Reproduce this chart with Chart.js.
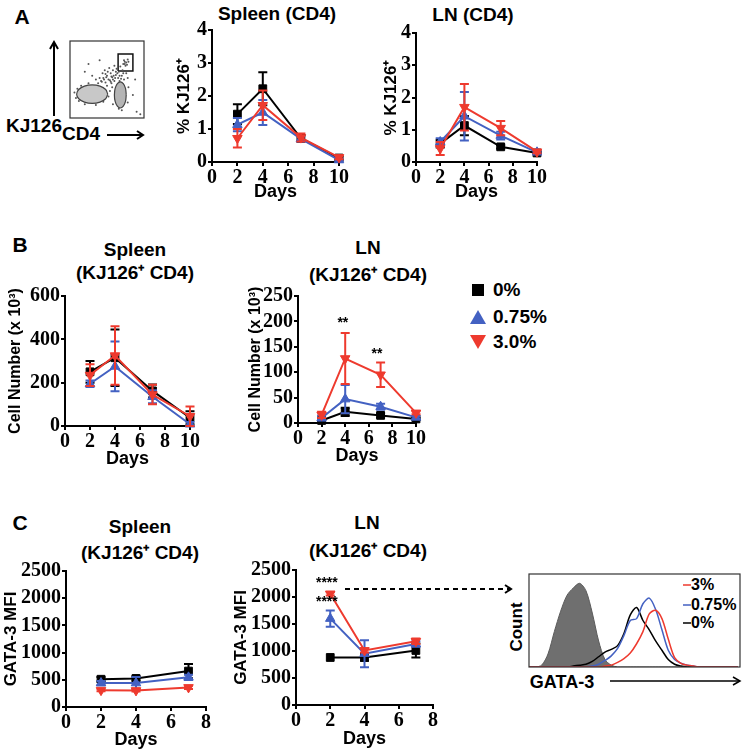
<!DOCTYPE html>
<html>
<head>
<meta charset="utf-8">
<script src="https://cdn.jsdelivr.net/npm/chart.js@4.4.1/dist/chart.umd.min.js"></script>
<style>
  body { margin: 0; background: #fff; width: 748px; height: 752px; position: relative; overflow: hidden; font-family: "Liberation Sans", Arial, sans-serif; }
  canvas { position: absolute; }
  .t { position: absolute; font-weight: bold; color: #000; white-space: nowrap; transform: translate(-50%, -50%); font-size: 19px; }
  .lg { position: absolute; font-weight: bold; color: #000; white-space: nowrap; transform: translate(0, -50%); font-size: 19px; }
  .hl { position: absolute; font-weight: bold; color: #000; white-space: nowrap; transform: translate(0, -50%); font-size: 16px; }
  svg { position: absolute; left: 0; top: 0; z-index: 5; }
</style>
</head>
<body>

<div class="t" style="left:22px;top:17px;font-size:21px">A</div>
<div class="t" style="left:20px;top:245px;font-size:21px">B</div>
<div class="t" style="left:20px;top:523px;font-size:21px">C</div>

<div class="t" style="left:277px;top:14px">Spleen (CD4)</div>
<div class="t" style="left:473px;top:15px">LN (CD4)</div>
<div class="t" style="left:135px;top:250px">Spleen</div>
<div class="t" style="left:135px;top:272px">(KJ126⁺ CD4)</div>
<div class="t" style="left:368px;top:248px">LN</div>
<div class="t" style="left:368px;top:274px">(KJ126⁺ CD4)</div>
<div class="t" style="left:140px;top:527px">Spleen</div>
<div class="t" style="left:140px;top:552px">(KJ126⁺ CD4)</div>
<div class="t" style="left:367px;top:523px">LN</div>
<div class="t" style="left:368px;top:550px">(KJ126⁺ CD4)</div>

<div class="t" style="left:34px;top:126px;font-size:19px">KJ126</div>
<div class="t" style="left:81px;top:134px;font-size:19px">CD4</div>

<div style="position:absolute;left:472px;top:284px;width:12px;height:12px;background:#000"></div>
<div style="position:absolute;left:470px;top:310px;width:0;height:0;border-left:8px solid transparent;border-right:8px solid transparent;border-bottom:14px solid #4361c2"></div>
<div style="position:absolute;left:470px;top:335px;width:0;height:0;border-left:8px solid transparent;border-right:8px solid transparent;border-top:14px solid #ee3a2e"></div>
<div class="lg" style="left:493px;top:290px">0%</div>
<div class="lg" style="left:493px;top:317px">0.75%</div>
<div class="lg" style="left:493px;top:342px">3.0%</div>

<div class="t" style="left:517px;top:627px;font-size:17px;transform:translate(-50%,-50%) rotate(-90deg)">Count</div>
<div class="t" style="left:562px;top:682px;font-size:18px">GATA-3</div>
<div class="hl" style="left:691px;top:585px">3%</div>
<div class="hl" style="left:691px;top:605px">0.75%</div>
<div class="hl" style="left:691px;top:623px">0%</div>

<svg width="748" height="752">
  <g stroke="#000" stroke-width="2" fill="none">
    <line x1="54" y1="116" x2="54" y2="43"/>
    <polyline points="50,49 54,42 58,49"/>
    <line x1="107" y1="135" x2="143" y2="135"/>
    <polyline points="137,131 143,135 137,139"/>
    <line x1="345" y1="589" x2="510" y2="589" stroke-dasharray="5,4"/>
    <polyline points="505,585 511,589 505,593"/>
    <line x1="610" y1="681" x2="739" y2="681" stroke-width="1.5"/>
    <polyline points="733,677 740,681 733,685" stroke-width="1.5"/>
  </g>
  <line x1="683" y1="585" x2="691" y2="585" stroke="#ee3a2e" stroke-width="1.5"/>
  <line x1="683" y1="605" x2="691" y2="605" stroke="#4361c2" stroke-width="1.5"/>
  <line x1="683" y1="623" x2="691" y2="623" stroke="#000" stroke-width="1.5"/>
</svg>

<script>
// groups
const groupLabels = ['0%', '0.75%', '3.0%'];
const groupColors = ['#000000', '#4361c2', '#ee3a2e'];

const daysAB = [2, 4, 7, 10];
const daysC = [2, 4, 7];

// A: % KJ126+ of CD4, spleen
const aSpleen0 = [1.45, 2.22, 0.72, 0.12];
const aSpleen0Sd = [0.3, 0.5, 0.1, 0.05];
const aSpleen075 = [1.13, 1.5, 0.7, 0.06];
const aSpleen075Sd = [0.2, 0.38, 0.08, 0.04];
const aSpleen3 = [0.72, 1.72, 0.74, 0.14];
const aSpleen3Sd = [0.28, 0.45, 0.12, 0.06];

// A: % KJ126+ of CD4, LN
const aLn0 = [0.57, 1.13, 0.47, 0.28];
const aLn0Sd = [0.12, 0.3, 0.05, 0.03];
const aLn075 = [0.62, 1.42, 0.82, 0.3];
const aLn075Sd = [0.12, 0.75, 0.12, 0.04];
const aLn3 = [0.42, 1.7, 1.05, 0.32];
const aLn3Sd = [0.2, 0.72, 0.22, 0.05];

// B: cell number (x 10^3), spleen
const bSpleen0 = [250, 315, 162, 38];
const bSpleen0Sd = [50, 130, 30, 30];
const bSpleen075 = [195, 275, 135, 8];
const bSpleen075Sd = [15, 115, 30, 10];
const bSpleen3 = [235, 325, 145, 45];
const bSpleen3Sd = [50, 135, 45, 45];

// B: cell number (x 10^3), LN
const bLn0 = [5, 22, 15, 8];
const bLn0Sd = [3, 8, 4, 2];
const bLn075 = [10, 47, 32, 11];
const bLn075Sd = [5, 28, 6, 3];
const bLn3 = [16, 127, 95, 20];
const bLn3Sd = [6, 50, 24, 3];
const bLnStarDays = [3.8, 6.7];
const bLnStarVals = [197, 136];
const bLnStars = ['**', '**'];

// C: GATA-3 MFI, spleen
const cSpleen0 = [510, 525, 660];
const cSpleen0Sd = [40, 40, 130];
const cSpleen075 = [440, 440, 545];
const cSpleen075Sd = [40, 110, 50];
const cSpleen3 = [310, 305, 360];
const cSpleen3Sd = [20, 20, 30];

// C: GATA-3 MFI, LN
const cLn0 = [880, 880, 1010];
const cLn0Sd = [0, 60, 130];
const cLn075 = [1600, 950, 1130];
const cLn075Sd = [150, 250, 50];
const cLn3 = [2060, 1010, 1180];
const cLn3Sd = [30, 40, 50];
const cLnStarDays = [1.8, 1.8];
const cLnStarVals = [2260, 1900];
const cLnStars = ['****', '****'];

// GATA-3 histogram (LN, day 2), % of max
const histX = [0, 3, 6, 9, 12, 15, 18, 21, 24, 27, 30, 33, 36, 39, 42, 45, 48, 51, 54, 57, 60, 63, 66, 69, 72, 75, 78, 81, 84, 87, 90, 93, 96, 99];
const histIso = [0, 0, 2, 14, 38, 60, 77, 85, 90, 82, 58, 28, 8, 2, 0, 0, 0, 0, 0, 0, 0, 0, 0, 0, 0, 0, 0, 0, 0, 0, 0, 0, 0, 0];
const hist0 = [0, 0, 0, 0, 0, 0, 0, 1, 2, 3, 6, 11, 16, 19, 23, 36, 56, 64, 50, 40, 28, 18, 8, 3, 1, 0, 0, 0, 0, 0, 0, 0, 0, 0];
const hist075 = [0, 0, 0, 0, 0, 0, 0, 0, 0, 0, 1, 3, 7, 12, 20, 34, 50, 52, 68, 74, 62, 40, 18, 8, 4, 2, 1, 0, 0, 0, 0, 0, 0, 0];
const hist3 = [0, 0, 0, 0, 0, 0, 0, 0, 0, 0, 0, 0, 1, 2, 5, 9, 15, 25, 38, 57, 61, 52, 30, 10, 4, 2, 1, 0, 0, 0, 0, 0, 0, 0];

// flow plot (CD4 vs KJ126), arbitrary 0-100 units
const flowX = [38, 42, 45, 48, 50, 52, 55, 57, 58, 60, 62, 63, 65, 66, 68, 70, 71, 73, 74, 76, 44, 47, 53, 56, 40, 60, 67, 78, 35, 50,
  72, 74, 76, 78, 75, 73, 79, 77, 6, 8, 12, 20, 35, 45, 52, 54, 25, 15, 10, 58, 78, 79, 57, 70, 66, 20, 30, 85, 90, 25, 40, 88, 95,
  46, 49, 54, 59, 61, 64, 69, 43, 51, 56, 62, 67, 72, 55, 48, 58];
const flowY = [45, 48, 52, 46, 55, 50, 58, 53, 62, 48, 56, 64, 52, 60, 67, 55, 62, 50, 70, 58, 58, 62, 65, 45, 52, 68, 48, 52, 50, 42,
  70, 73, 72, 76, 68, 75, 73, 69, 33, 26, 22, 18, 17, 21, 28, 35, 45, 42, 38, 18, 20, 40, 40, 10, 12, 60, 55, 30, 8, 70, 75, 50, 5,
  50, 53, 49, 55, 52, 58, 51, 47, 60, 54, 60, 55, 58, 47, 57, 50];
const cd4NegX = [51, 48.2, 40.5, 30, 19.5, 11.8, 9, 11.8, 19.5, 30, 40.5, 48.2, 51];
const cd4NegY = [31, 37, 41.4, 43, 41.4, 37, 31, 25, 20.6, 19, 20.6, 25, 31];
const cd4NegCoreX = [45, 43, 37.5, 30, 22.5, 17, 15, 17, 22.5, 30, 37.5, 43, 45];
const cd4NegCoreY = [31, 34.5, 37, 38, 37, 34.5, 31, 27.5, 25, 24, 25, 27.5, 31];
const cd4PosX = [76, 75, 72, 68, 64, 61, 60, 61, 64, 68, 72, 75, 76];
const cd4PosY = [30, 38.5, 44.7, 47, 44.7, 38.5, 30, 21.5, 15.3, 13, 15.3, 21.5, 30];
const cd4PosCoreX = [72, 71.5, 70, 68, 66, 64.5, 64, 64.5, 66, 68, 70, 71.5, 72];
const cd4PosCoreY = [30, 35.5, 39.5, 41, 39.5, 35.5, 30, 24.5, 20.5, 19, 20.5, 24.5, 30];
const gateX = [65, 85, 85, 65, 65];
const gateY = [61, 61, 83, 83, 61];

const sans = "'Liberation Sans', Arial, sans-serif";
const serif = "'Liberation Serif', 'Times New Roman', serif";

Chart.defaults.color = '#000';

const errorBars = {
  id: 'errorBars',
  afterDatasetDraw(chart, args) {
    const ds = chart.data.datasets[args.index];
    if (!ds.err) return;
    const ctx = chart.ctx;
    const ys = chart.scales.y;
    ctx.save();
    ctx.strokeStyle = ds.borderColor;
    ctx.lineWidth = 2;
    args.meta.data.forEach((pt, j) => {
      const e = ds.err[j];
      if (!e) return;
      const v = ds.data[j].y;
      const top = ys.getPixelForValue(v + e);
      const bot = ys.getPixelForValue(Math.max(v - e, 0));
      ctx.beginPath();
      ctx.moveTo(pt.x, top); ctx.lineTo(pt.x, bot);
      ctx.moveTo(pt.x - 4.5, top); ctx.lineTo(pt.x + 4.5, top);
      ctx.moveTo(pt.x - 4.5, bot); ctx.lineTo(pt.x + 4.5, bot);
      ctx.stroke();
    });
    ctx.restore();
  }
};

const starText = {
  id: 'starText',
  afterDatasetsDraw(chart, args, opts) {
    if (!opts.days) return;
    const ctx = chart.ctx;
    ctx.save();
    ctx.font = 'bold 14px ' + sans;
    ctx.fillStyle = '#000';
    ctx.textAlign = 'center';
    ctx.textBaseline = 'middle';
    opts.days.forEach((d, i) => {
      ctx.fillText(opts.text[i], chart.scales.x.getPixelForValue(d), chart.scales.y.getPixelForValue(opts.vals[i]));
    });
    ctx.restore();
  }
};

const frame = {
  id: 'frame',
  afterDraw(chart, args, opts) {
    if (!opts.on) return;
    const a = chart.chartArea;
    chart.ctx.save();
    chart.ctx.strokeStyle = '#333';
    chart.ctx.lineWidth = 1.2;
    chart.ctx.strokeRect(a.left, a.top, a.right - a.left, a.bottom - a.top);
    chart.ctx.restore();
  }
};

function makeCanvas(cx, cy, cw, ch) {
  const c = document.createElement('canvas');
  c.width = cw; c.height = ch;
  c.style.left = cx + 'px'; c.style.top = cy + 'px';
  document.body.appendChild(c);
  return c;
}

function series(days, vals, sds, g) {
  return {
    label: groupLabels[g],
    data: days.map((d, i) => ({ x: d, y: vals[i] })),
    err: sds,
    showLine: true,
    borderColor: groupColors[g],
    backgroundColor: groupColors[g],
    borderWidth: 2,
    pointStyle: g === 0 ? 'rect' : 'triangle',
    rotation: g === 2 ? 180 : 0,
    pointRadius: 5.5,
    pointBorderWidth: 1,
    clip: false,
    order: 3 - g
  };
}

// box: canvas x, y, w, h and plot area left, top, right, bottom (page px)
function panel(box, xMax, yMax, yStep, yTitle, yTitleSize, sets, stars) {
  const [cx, cy, cw, ch, L, T, R, B] = box;
  return new Chart(makeCanvas(cx, cy, cw, ch), {
    type: 'scatter',
    data: { datasets: sets },
    options: {
      responsive: false,
      animation: false,
      layout: { padding: { left: 0, top: T - cy, right: cx + cw - R, bottom: 0 } },
      plugins: {
        legend: { display: false },
        tooltip: { enabled: false },
        starText: stars || {}
      },
      scales: {
        x: {
          type: 'linear', min: 0, max: xMax,
          afterFit(s) { s.height = cy + ch - B; },
          ticks: {
            stepSize: 2, autoSkip: false, maxRotation: 0, padding: 0, color: '#000',
            font: { family: serif, size: 20, weight: 'bold' },
            callback: v => String(v)
          },
          grid: { drawOnChartArea: false, color: '#000', lineWidth: 2, tickLength: 4 },
          border: { color: '#000', width: 2 },
          title: { display: true, text: 'Days', color: '#000', padding: 0, font: { family: sans, size: 18, weight: 'bold' } }
        },
        y: {
          min: 0, max: yMax,
          afterFit(s) { s.width = L - cx; },
          ticks: {
            stepSize: yStep, autoSkip: false, padding: 1, color: '#000',
            font: { family: serif, size: 20, weight: 'bold' },
            callback: v => String(v)
          },
          grid: { drawOnChartArea: false, color: '#000', lineWidth: 2, tickLength: 4 },
          border: { color: '#000', width: 2 },
          title: { display: true, text: yTitle, color: '#000', padding: 0, font: { family: sans, size: yTitleSize, weight: 'bold' } }
        }
      }
    },
    plugins: [errorBars, starText]
  });
}

panel([174, 17, 180, 186, 212, 29, 339, 162], 10, 4, 1, '% KJ126⁺', 17, [
  series(daysAB, aSpleen0, aSpleen0Sd, 0),
  series(daysAB, aSpleen075, aSpleen075Sd, 1),
  series(daysAB, aSpleen3, aSpleen3Sd, 2)
]);

panel([381, 20, 171, 183, 416, 32, 537, 162], 10, 4, 1, '% KJ126⁺', 17, [
  series(daysAB, aLn0, aLn0Sd, 0),
  series(daysAB, aLn075, aLn075Sd, 1),
  series(daysAB, aLn3, aLn3Sd, 2)
]);

panel([6, 283, 199, 187, 65, 295, 190, 426], 10, 600, 200, 'Cell Number (x 10³)', 16, [
  series(daysAB, bSpleen0, bSpleen0Sd, 0),
  series(daysAB, bSpleen075, bSpleen075Sd, 1),
  series(daysAB, bSpleen3, bSpleen3Sd, 2)
]);

panel([246, 283, 185, 184, 298, 295, 416, 423], 10, 250, 50, 'Cell Number (x 10³)', 16, [
  series(daysAB, bLn0, bLn0Sd, 0),
  series(daysAB, bLn075, bLn075Sd, 1),
  series(daysAB, bLn3, bLn3Sd, 2)
], { days: bLnStarDays, vals: bLnStarVals, text: bLnStars });

panel([1, 558, 220, 193, 66, 570, 206, 707], 8, 2500, 500, 'GATA-3 MFI', 17, [
  series(daysC, cSpleen0, cSpleen0Sd, 0),
  series(daysC, cSpleen075, cSpleen075Sd, 1),
  series(daysC, cSpleen3, cSpleen3Sd, 2)
]);

panel([231, 557, 217, 193, 296, 569, 433, 705], 8, 2500, 500, 'GATA-3 MFI', 17, [
  series(daysC, cLn0, cLn0Sd, 0),
  series(daysC, cLn075, cLn075Sd, 1),
  series(daysC, cLn3, cLn3Sd, 2)
], { days: cLnStarDays, vals: cLnStarVals, text: cLnStars });

// flow cytometry dot plot
const pts = (xs, ys) => xs.map((x, i) => ({ x, y: ys[i] }));
const contour = (xs, ys, fillCol, lineCol) => ({
  data: pts(xs, ys), showLine: true, fill: 'shape', backgroundColor: fillCol,
  borderColor: lineCol, borderWidth: 1.2, pointRadius: 0, tension: 0.4
});
new Chart(makeCanvas(66, 37, 82, 85), {
  type: 'scatter',
  data: {
    datasets: [
      contour(cd4NegX, cd4NegY, '#c8c8c8', '#444'),
      contour(cd4NegCoreX, cd4NegCoreY, '#a0a0a0', '#666'),
      contour(cd4PosX, cd4PosY, '#b4b4b4', '#444'),
      contour(cd4PosCoreX, cd4PosCoreY, '#8c8c8c', '#555'),
      { data: pts(flowX, flowY), pointRadius: 1, backgroundColor: '#555', borderWidth: 0 },
      { data: pts(gateX, gateY), showLine: true, borderColor: '#111', borderWidth: 1.5, pointRadius: 0 }
    ]
  },
  options: {
    responsive: false,
    animation: false,
    layout: { padding: 1 },
    plugins: { legend: { display: false }, tooltip: { enabled: false }, frame: { on: true } },
    scales: {
      x: { display: false, min: 0, max: 100 },
      y: { display: false, min: 0, max: 100 }
    }
  },
  plugins: [frame]
});

// GATA-3 histogram
const histLine = (vals, col) => ({
  data: pts(histX, vals), showLine: true, borderColor: col, borderWidth: 1.5,
  pointRadius: 0, tension: 0.3, fill: false
});
new Chart(makeCanvas(528, 573, 213, 95), {
  type: 'scatter',
  data: {
    datasets: [
      histLine(hist3, '#ee3a2e'),
      histLine(hist075, '#4361c2'),
      histLine(hist0, '#000'),
      { data: pts(histX, histIso), showLine: true, fill: 'origin', backgroundColor: '#6f6f6f', borderColor: '#5a5a5a', borderWidth: 1, pointRadius: 0, tension: 0.3 }
    ]
  },
  options: {
    responsive: false,
    animation: false,
    layout: { padding: 1 },
    plugins: { legend: { display: false }, tooltip: { enabled: false }, frame: { on: true } },
    scales: {
      x: { display: false, min: 0, max: 100 },
      y: { display: false, min: 0, max: 100 }
    }
  },
  plugins: [frame]
});
</script>
</body>
</html>
